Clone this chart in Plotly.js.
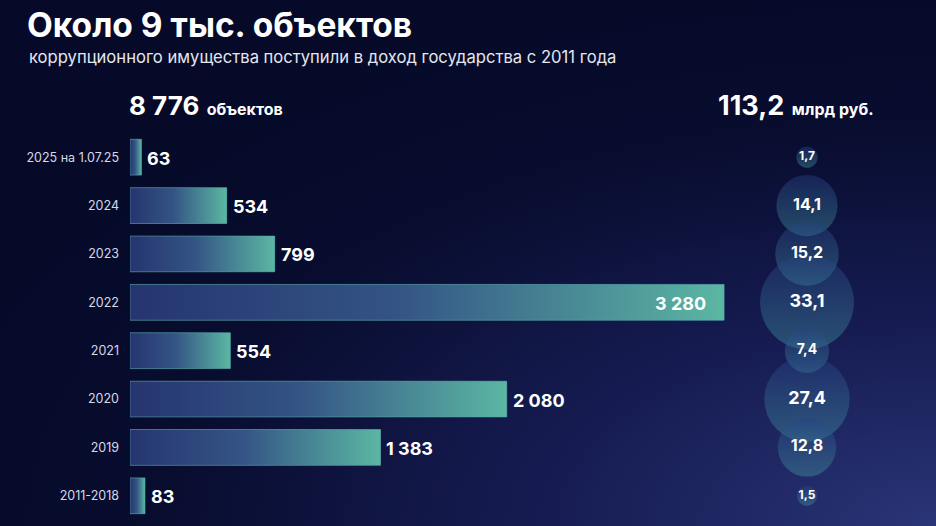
<!DOCTYPE html>
<html><head><meta charset="utf-8">
<script src="https://cdn.plot.ly/plotly-3.0.1.min.js"></script>
<style>
html,body{margin:0;padding:0;width:936px;height:526px;overflow:hidden;}
body{background: radial-gradient(ellipse 120% 110% at 100% 100%, #2a3577 0%, #161c52 35%, #080c2e 70%, #060a28 100%);}
#chart{width:936px;height:526px;}
</style></head><body><div id="chart"></div>
<script>
const categories = ['2025 на 1.07.25','2024','2023','2022','2021','2020','2019','2011-2018'];
const objects = [63,534,799,3280,554,2080,1383,83];
const billions = [1.7,14.1,15.2,33.1,7.4,27.4,12.8,1.5];
const titleText = 'Около 9 тыс. объектов';
const subtitleText = 'коррупционного имущества поступили в доход государства с 2011 года';
const objectsUnit = 'объектов';
const moneyUnit = 'млрд руб.';

const W = 936, H = 526;
const M = {l:130, r:0, t:133, b:6};
const PW = W - M.l - M.r, PH = H - M.t - M.b;
const px = x => (x - M.l) / PW;
const py = y => (H - M.b - y) / PH;

const fmtInt = v => String(v).replace(/\B(?=(\d{3})+(?!\d))/g, ' ');
const fmtDec = v => v.toFixed(1).replace('.', ',');
const idx = categories.map((c, i) => i);
const maxObj = Math.max(...objects);
const totalObj = objects.reduce((a, b) => a + b, 0);
const totalBn = billions.reduce((a, b) => a + b, 0);
const halfW = 0.37;
const FONT = 'Inter, "Noto Sans", sans-serif';

const traces = [];
traces.push({
  type: 'bar', orientation: 'h', x: objects, y: idx, width: 2 * halfW,
  marker: {color: '#3d6f90', line: {width: 0}}, hoverinfo: 'skip', showlegend: false
});
objects.forEach((v, i) => {
  traces.push({
    type: 'scatter', mode: 'lines', fill: 'toself',
    x: [0, v, v, 0, 0], y: [i - halfW, i - halfW, i + halfW, i + halfW, i - halfW],
    line: {color: 'rgba(90,170,170,0.55)', width: 1},
    fillgradient: {type: 'horizontal', colorscale: [[0, '#25356f'], [0.45, '#345485'], [1, '#5bb7a3']]},
    hoverinfo: 'skip', showlegend: false
  });
});
traces.push({
  type: 'scatter', mode: 'markers+text', xaxis: 'x2', yaxis: 'y', cliponaxis: false,
  x: billions.map(() => 0.5), y: idx,
  text: billions.map(fmtDec),
  textposition: 'middle center',
  textfont: {color: '#ffffff', family: FONT, weight: 'bold',
             size: billions.map(v => v >= 20 ? 18 : (v >= 10 ? 16 : (v >= 5 ? 14 : 12)))},
  marker: {
    size: billions, sizemode: 'area', sizeref: 2 / (16.3 * 16.3),
    color: 'rgba(38,62,132,0.6)',
    gradient: {type: 'vertical', color: 'rgba(66,150,158,0.62)'},
    line: {width: 0}
  },
  hoverinfo: 'skip', showlegend: false
});

const annotations = objects.map((v, i) => ({
  xref: 'x', yref: 'y', x: v, y: i, text: fmtInt(v), showarrow: false,
  xanchor: v === maxObj ? 'right' : 'left', xshift: v === maxObj ? -16 : 4, yshift: -1,
  font: {family: FONT, size: 18, color: '#ffffff', weight: 'bold'}
}));
annotations.push({
  xref: 'paper', yref: 'paper', x: px(27), y: py(57), xanchor: 'left', yanchor: 'middle',
  text: subtitleText, showarrow: false,
  font: {family: FONT, size: 16.6, color: '#e4e6ef'}
});
annotations.push({
  xref: 'paper', yref: 'paper', x: px(127), y: py(105), xanchor: 'left', yanchor: 'middle',
  text: '<b>' + fmtInt(totalObj) + '</b> <span style="font-size:16px"><b>' + objectsUnit + '</b></span>', showarrow: false,
  font: {family: FONT, size: 26, color: '#ffffff'}
});
annotations.push({
  xref: 'paper', yref: 'paper', x: px(876), y: py(105), xanchor: 'right', yanchor: 'middle',
  text: '<b>' + fmtDec(totalBn) + '</b> <span style="font-size:16px"><b>' + moneyUnit + '</b></span>', showarrow: false,
  font: {family: FONT, size: 27, color: '#ffffff'}
});

const layout = {
  width: W, height: H, margin: M,
  paper_bgcolor: 'rgba(0,0,0,0)', plot_bgcolor: 'rgba(0,0,0,0)',
  showlegend: false,
  title: {text: '<b>' + titleText + '</b>', x: 27 / W, xanchor: 'left', xref: 'container',
          y: 1 - 25 / H, yanchor: 'middle', yref: 'container',
          font: {family: FONT, size: 33.5, color: '#ffffff'}},
  xaxis: {range: [0, 4450], domain: [0, 1], visible: false, fixedrange: true},
  xaxis2: {range: [0, 1], domain: [px(762), px(852)], anchor: 'y', visible: false, fixedrange: true},
  yaxis: {range: [7.5, -0.5], tickvals: idx, ticktext: categories, showgrid: false, zeroline: false,
          showline: false, ticks: '', ticklabelstandoff: 10,
          tickfont: {family: FONT, size: 12.5, color: '#d6d9e6'}, fixedrange: true},
  annotations: annotations
};
Plotly.newPlot('chart', traces, layout, {displayModeBar: false, staticPlot: true});
</script></body></html>
